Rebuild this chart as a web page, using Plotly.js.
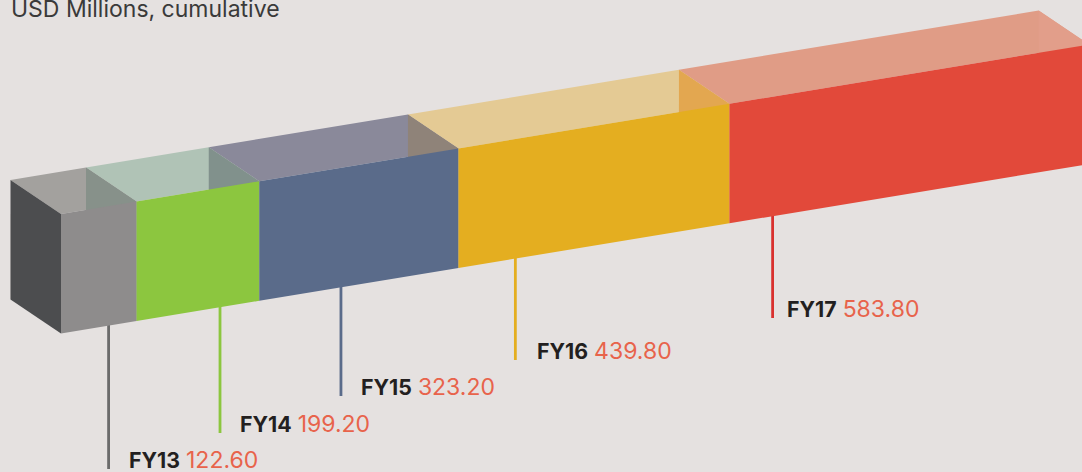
<!DOCTYPE html>
<html>
<head>
<meta charset="utf-8">
<script src="https://cdn.plot.ly/plotly-3.0.1.min.js"></script>
<style>html,body{margin:0;padding:0;background:#e5e1e0;overflow:hidden}</style>
</head>
<body>
<div id="chart" style="width:1082px;height:472px"></div>
<script>
// Data
const fiscalYears = ['FY13', 'FY14', 'FY15', 'FY16', 'FY17'];
const revenue = [122.6, 199.2, 323.2, 439.8, 583.8];
const valueLabels = ['122.60', '199.20', '323.20', '439.80', '583.80'];

// Styles
const frontColors = ['#8e8c8c', '#8cc63f', '#5a6b8a', '#e4ae20', '#e2493a'];
const topColors = ['#a3a19e', '#b0c3b6', '#8a899a', '#e4ca94', '#e09c86'];
const endColors = ['#87918a', '#81918c', '#8f8379', '#e3a750', '#e29e8a'];
const leaderColors = ['#6b6b6b', '#8cc63f', '#5a6b8a', '#e4ae20', '#d9312f'];
const sideColor = '#4c4d4f';
const background = '#e5e1e0';

// Layout of the oblique projection
const pxPerUnit = 0.6162, originX = 61, originY = 214;
const rise = 0.1016, barHeight = 119.5, depthX = -82, depthY = -34;
const leaderShare = [0.63, 0.68, 0.41, 0.21, 0.12];
const leaderEndY = [469, 433, 396, 360, 318];
const labelLeftPx = [129, 240, 361, 536.5, 787];

const frontTop = v => originY - rise * v;
const starts = [];
revenue.reduce((sum, v, i) => (starts[i] = sum, sum + v), 0);
const ends = starts.map((s, i) => s + revenue[i]);

function poly(xs, ys, color) {
  return {type: 'scatter', mode: 'lines', x: xs, y: ys, fill: 'toself', fillcolor: color,
          line: {width: 0, color: color}, hoverinfo: 'skip', showlegend: false};
}

const traces = [];
// leader lines
fiscalYears.forEach((fy, i) => {
  const v = starts[i] + leaderShare[i] * revenue[i];
  traces.push({type: 'scatter', mode: 'lines', x: [v, v],
    y: [frontTop(v) + barHeight - 1, leaderEndY[i]],
    line: {color: leaderColors[i], width: 2.8}, hoverinfo: 'skip', showlegend: false});
});
// top faces
fiscalYears.forEach((fy, i) => {
  const a = starts[i], b = ends[i];
  traces.push(poly(
    [a + depthX, b + depthX, b, a, a + depthX],
    [frontTop(a) + depthY, frontTop(b) + depthY, frontTop(b), frontTop(a), frontTop(a) + depthY],
    topColors[i]));
});
// end faces seen through the open tops
fiscalYears.forEach((fy, i) => {
  const b = ends[i];
  traces.push(poly(
    [b + depthX, b, b, b + depthX, b + depthX],
    [frontTop(b) + depthY, frontTop(b), frontTop(b) + barHeight, frontTop(b) + depthY + barHeight, frontTop(b) + depthY],
    endColors[i]));
});
// left side
traces.push(poly(
  [depthX, 0, 0, depthX, depthX],
  [frontTop(0) + depthY, frontTop(0), frontTop(0) + barHeight, frontTop(0) + depthY + barHeight, frontTop(0) + depthY],
  sideColor));
// front faces
fiscalYears.forEach((fy, i) => {
  const a = starts[i], b = ends[i];
  traces.push(poly(
    [a, b, b, a, a],
    [frontTop(a), frontTop(b), frontTop(b) + barHeight, frontTop(a) + barHeight, frontTop(a)],
    frontColors[i]));
});

const annotations = fiscalYears.map((fy, i) => ({
  x: labelLeftPx[i] / 1082,
  y: 1 - (leaderEndY[i] - 9) / 472,
  xref: 'paper', yref: 'paper', xanchor: 'left', yanchor: 'middle',
  showarrow: false, borderpad: 0, borderwidth: 0,
  text: '<b><span style="font-size:21.3px">' + fy + '</span></b> <span style="color:#e8634b;font-size:23px">' + valueLabels[i] + '</span>',
  font: {family: 'Inter, sans-serif', size: 21.3, color: '#231f20'}
}));
annotations.push({
  x: 10 / 1082, y: 1 - 9 / 472, xref: 'paper', yref: 'paper', xanchor: 'left', yanchor: 'middle',
  showarrow: false, borderpad: 0,
  text: 'USD Millions, cumulative',
  font: {family: 'Inter, sans-serif', size: 23, color: '#3a3a3a'}
});

Plotly.newPlot('chart', traces, {
  width: 1082, height: 472,
  margin: {l: 0, r: 0, t: 0, b: 0},
  paper_bgcolor: background, plot_bgcolor: background,
  showlegend: false,
  xaxis: {range: [-originX / pxPerUnit, (1082 - originX) / pxPerUnit], visible: false, fixedrange: true},
  yaxis: {range: [472, 0], visible: false, fixedrange: true},
  annotations: annotations
}, {displayModeBar: false, staticPlot: true});
</script>
</body>
</html>
